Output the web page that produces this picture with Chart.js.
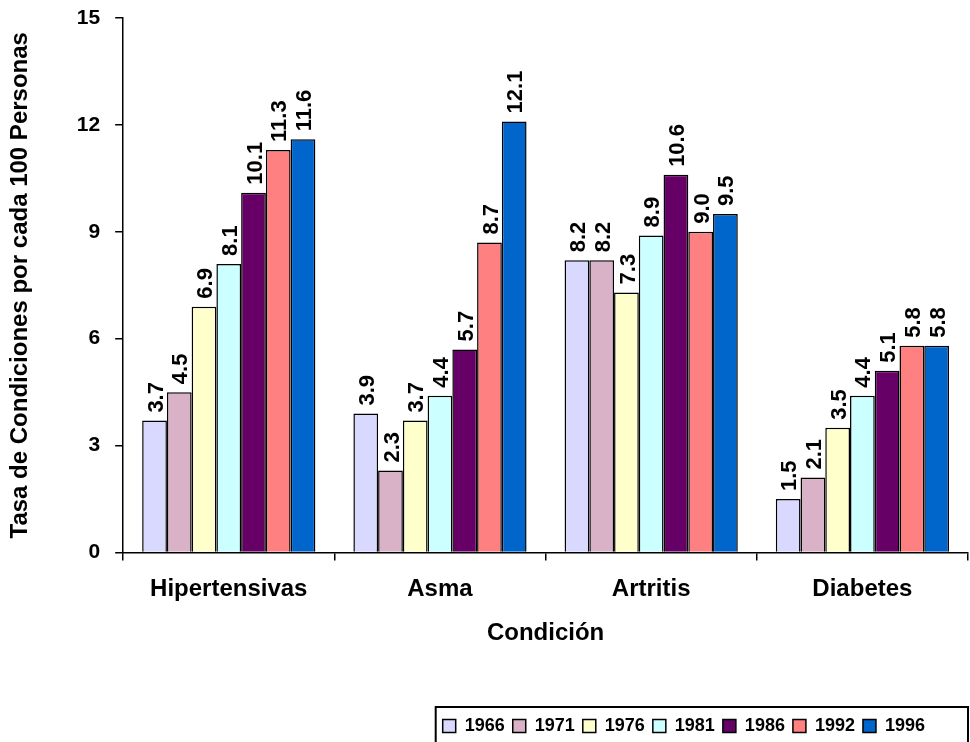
<!DOCTYPE html>
<html><head><meta charset="utf-8">
<script src="https://cdn.jsdelivr.net/npm/chart.js@4"></script>
<style>html,body{margin:0;padding:0;background:#fff}#wrap{width:970px;height:742px}</style>
</head><body><div id="wrap"><canvas id="c" width="970" height="742"></canvas></div>
<script>
const categories = ["Hipertensivas", "Asma", "Artritis", "Diabetes"];
const years = ["1966", "1971", "1976", "1981", "1986", "1992", "1996"];
const v1966 = [3.7, 3.9, 8.2, 1.5];
const v1971 = [4.5, 2.3, 8.2, 2.1];
const v1976 = [6.9, 3.7, 7.3, 3.5];
const v1981 = [8.1, 4.4, 8.9, 4.4];
const v1986 = [10.1, 5.7, 10.6, 5.1];
const v1992 = [11.3, 8.7, 9.0, 5.8];
const v1996 = [11.6, 12.1, 9.5, 5.8];
const yTicks = [0, 3, 6, 9, 12, 15];
const colors = ["#D9D9FF", "#D9B2C8", "#FFFFCC", "#CCFFFF", "#660066", "#FF8080", "#0066CC"];
const seriesValues = [v1966, v1971, v1976, v1981, v1986, v1992, v1996];

const FONT = "'Liberation Sans', Arial, sans-serif";
const LEGEND_SHIFT_X = -35;
const LEGEND_SHIFT_Y = 3;

const labelPlugin = {
  id: 'barLabels',
  afterDatasetsDraw(chart) {
    const ctx = chart.ctx;
    ctx.save();
    ctx.font = "bold 22px " + FONT;
    ctx.fillStyle = "#000";
    ctx.textAlign = "left";
    ctx.textBaseline = "middle";
    chart.data.datasets.forEach((ds, i) => {
      const meta = chart.getDatasetMeta(i);
      meta.data.forEach((bar, j) => {
        ctx.save();
        ctx.translate(bar.x + 2, bar.y - 8);
        ctx.rotate(-Math.PI / 2);
        ctx.fillText(ds.data[j].toFixed(1), 0, 0);
        ctx.restore();
      });
    });
    ctx.restore();
  }
};

const legendFrame = {
  id: 'legendFrame',
  beforeDraw(chart) {
    const lg = chart.legend;
    if (lg && !lg._shifted) {
      const orig = lg.draw.bind(lg);
      lg.draw = function () {
        const ctx = chart.ctx;
        ctx.save();
        ctx.translate(LEGEND_SHIFT_X, LEGEND_SHIFT_Y);
        orig();
        ctx.restore();
      };
      lg._shifted = true;
    }
  },
  afterDraw(chart) {
    const lg = chart.legend;
    if (!lg || !lg.legendHitBoxes || !lg.legendHitBoxes.length) return;
    const first = lg.legendHitBoxes[0];
    const ctx = chart.ctx;
    const left = first.left + LEGEND_SHIFT_X - 7;
    const right = chart.width - 2;
    ctx.save();
    ctx.strokeStyle = "#000";
    ctx.lineWidth = 2;
    ctx.strokeRect(left, lg.top + 1, right - left, lg.height + 20);
    ctx.restore();
  }
};

new Chart(document.getElementById('c'), {
  type: 'bar',
  data: {
    labels: categories,
    datasets: years.map((y, i) => ({
      label: y,
      data: seriesValues[i],
      backgroundColor: colors[i],
      borderColor: "#000",
      borderWidth: 1.5,
      barPercentage: 1.0,
      categoryPercentage: 0.82
    }))
  },
  options: {
    responsive: false,
    animation: false,
    layout: { padding: { top: 0, right: 2, left: 0, bottom: 0 } },
    plugins: {
      tooltip: { enabled: false },
      legend: {
        position: 'bottom',
        align: 'end',
        labels: {
          font: { family: FONT, size: 18, weight: 'bold' },
          color: "#000",
          boxWidth: 13,
          boxHeight: 13,
          padding: 8,
          generateLabels(chart) {
            return chart.data.datasets.map((ds, i) => ({
              text: ds.label,
              fillStyle: ds.backgroundColor,
              strokeStyle: "#000",
              lineWidth: 1.5,
              datasetIndex: i,
              fontColor: "#000"
            }));
          }
        }
      }
    },
    scales: {
      x: {
        grid: { display: true, drawOnChartArea: false, offset: true, color: "#000", tickLength: 8, lineWidth: 1.5 },
        border: { color: "#000", width: 1.5 },
        ticks: { color: "#000", font: { family: FONT, size: 24, weight: 'bold' }, padding: 15 },
        title: { display: true, text: "Condición", color: "#000", font: { family: FONT, size: 24, weight: 'bold' }, padding: { top: 0, bottom: 58 } }
      },
      y: {
        min: 0, max: 15,
        afterBuildTicks(scale) { scale.ticks = yTicks.map(v => ({ value: v })); },
        grid: { display: true, drawOnChartArea: false, color: "#000", tickLength: 8, lineWidth: 1.5 },
        border: { color: "#000", width: 1.5 },
        ticks: { color: "#000", font: { family: FONT, size: 21, weight: 'bold', lineHeight: 0.3 }, padding: 15 },
        title: { display: true, text: "Tasa de Condiciones por cada 100 Personas", color: "#000", font: { family: FONT, size: 24, weight: 'bold' }, padding: { top: 6, bottom: 27 } }
      }
    }
  },
  plugins: [labelPlugin, legendFrame]
});
</script>
</body></html>
